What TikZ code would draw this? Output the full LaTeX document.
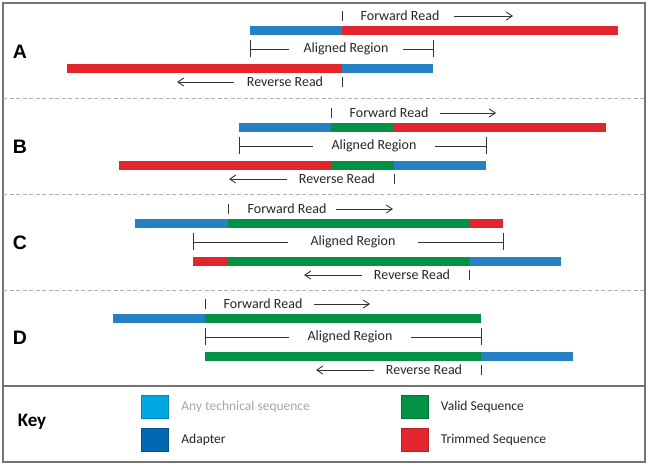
\documentclass[tikz,border=0pt]{standalone}
\usepackage{fontspec}
\setmainfont{Carlito}
\newfontfamily\panelfont{Liberation Sans}
\usetikzlibrary{arrows.meta,positioning}

\definecolor{adblue}{RGB}{38,128,196}
\definecolor{trimred}{RGB}{227,38,46}
\definecolor{validgreen}{RGB}{0,146,69}
\definecolor{keylight}{RGB}{0,168,226}
\definecolor{keydark}{RGB}{0,104,176}
\definecolor{framegray}{RGB}{115,115,115}
\definecolor{sepgray}{RGB}{175,175,175}
\definecolor{lightlbl}{RGB}{165,165,165}

\tikzset{
  lbl/.style={font=\fontsize{14}{16}\selectfont, text=black!85, inner sep=0pt},
  ln/.style={draw=black!80, line width=0.9pt},
  arr/.style={ln, -{Straight Barb[length=6pt,width=8pt]}},
  panel/.style={font=\panelfont\bfseries\fontsize{19.5}{22}\selectfont},
  keybox/.style={minimum width=27pt, minimum height=23pt, inner sep=0pt, draw=#1!80!black, line width=0.4pt, fill=#1},
  keytxt/.style={font=\fontsize{13.5}{16}\selectfont, text=black!85, inner sep=0pt}
}

\begin{document}
\begin{tikzpicture}[x=1pt,y=-1pt]
\useasboundingbox (0,0) rectangle (649,466);
\draw[framegray, line width=1.2pt] (3,3) rectangle (645,462);
\draw[framegray, line width=1.2pt] (3,386) -- (645,386);
\foreach \y in {98.5,194,290}
\draw[sepgray, line width=0.8pt, dash pattern=on 4pt off 2.5pt] (3,\y) -- (645,\y);

% A
\node[panel] (lA) at (20,52) {A};
\foreach \a/\b/\c in {250/342/adblue,342/618/trimred}
\fill[\c] (\a,26) rectangle (\b,35);
\foreach \a/\b/\c in {67/342/trimred,342/433/adblue}
\fill[\c] (\a,64) rectangle (\b,73);
\node[lbl] (fwA) at (400,16) {Forward Read};
\coordinate (fwAe) at (513,16);
\draw[arr, shorten <=14pt] (fwA.east) -- (fwAe);
\draw[ln] (342,11) -- (342,21);
\node[lbl, inner xsep=14pt] (alA) at (346,49) {Aligned Region};
\coordinate (alAl) at (250,49);
\coordinate (alAr) at (433,49);
\draw[ln] (alAl) -- (alA.west);
\draw[ln] (alA.east) -- (alAr);
\draw[ln] (250,40) -- (250,57);
\draw[ln] (433,40) -- (433,57);
\node[lbl] (rvA) at (285,82) {Reverse Read};
\coordinate (rvAe) at (177,82);
\draw[arr, shorten <=13pt] (rvA.west) -- (rvAe);
\draw[ln] (342,77) -- (342,87);

% B
\begin{scope}[shift={(0,97)}]
\node[panel] (lB) at (20,50) {B};
\foreach \a/\b/\c in {239/331/adblue,331/394/validgreen,394/606/trimred}
\fill[\c] (\a,26) rectangle (\b,35);
\foreach \a/\b/\c in {119/331/trimred,331/394/validgreen,394/486/adblue}
\fill[\c] (\a,64) rectangle (\b,73);
\node[lbl] (fwB) at (389,16) {Forward Read};
\coordinate (fwBe) at (496,16);
\draw[arr, shorten <=11pt] (fwB.east) -- (fwBe);
\draw[ln] (331,11) -- (331,21);
\node[lbl, inner xsep=18pt] (alB) at (374,49) {Aligned Region};
\coordinate (alBl) at (239,49);
\coordinate (alBr) at (486,49);
\draw[ln] (alBl) -- (alB.west);
\draw[ln] (alB.east) -- (alBr);
\draw[ln] (239,40) -- (239,57);
\draw[ln] (486,40) -- (486,57);
\node[lbl] (rvB) at (337,82) {Reverse Read};
\coordinate (rvBe) at (229,82);
\draw[arr, shorten <=12pt] (rvB.west) -- (rvBe);
\draw[ln] (394,77) -- (394,87);
\end{scope}

% C
\begin{scope}[shift={(0,193)}]
\node[panel] (lC) at (20,50) {C};
\foreach \a/\b/\c in {135/228/adblue,228/469/validgreen,469/503/trimred}
\fill[\c] (\a,26) rectangle (\b,35);
\foreach \a/\b/\c in {193/228/trimred,228/469/validgreen,469/561/adblue}
\fill[\c] (\a,64) rectangle (\b,73);
\node[lbl] (fwC) at (287,16) {Forward Read};
\coordinate (fwCe) at (393,16);
\draw[arr, shorten <=9pt] (fwC.east) -- (fwCe);
\draw[ln] (228,11) -- (228,21);
\node[lbl, inner xsep=22pt] (alC) at (353,49) {Aligned Region};
\coordinate (alCl) at (193,49);
\coordinate (alCr) at (503,49);
\draw[ln] (alCl) -- (alC.west);
\draw[ln] (alC.east) -- (alCr);
\draw[ln] (193,40) -- (193,57);
\draw[ln] (503,40) -- (503,57);
\node[lbl] (rvC) at (412,82) {Reverse Read};
\coordinate (rvCe) at (304,82);
\draw[arr, shorten <=12pt] (rvC.west) -- (rvCe);
\draw[ln] (469,77) -- (469,87);
\end{scope}

% D
\begin{scope}[shift={(0,288)}]
\node[panel] (lD) at (20,50) {D};
\foreach \a/\b/\c in {113/205/adblue,205/481/validgreen}
\fill[\c] (\a,26) rectangle (\b,35);
\foreach \a/\b/\c in {205/481/validgreen,481/573/adblue}
\fill[\c] (\a,64) rectangle (\b,73);
\node[lbl] (fwD) at (263,16) {Forward Read};
\coordinate (fwDe) at (370,16);
\draw[arr, shorten <=11pt] (fwD.east) -- (fwDe);
\draw[ln] (205,11) -- (205,21);
\node[lbl, inner xsep=18pt] (alD) at (350,49) {Aligned Region};
\coordinate (alDl) at (205,49);
\coordinate (alDr) at (481,49);
\draw[ln] (alDl) -- (alD.west);
\draw[ln] (alD.east) -- (alDr);
\draw[ln] (205,40) -- (205,57);
\draw[ln] (481,40) -- (481,57);
\node[lbl] (rvD) at (424,82) {Reverse Read};
\coordinate (rvDe) at (316,82);
\draw[arr, shorten <=12pt] (rvD.west) -- (rvDe);
\draw[ln] (481,77) -- (481,87);
\end{scope}

% key
\node[font=\bfseries\fontsize{19}{22}\selectfont] (key) at (32,422) {Key};
\node[keybox=keylight] (kTech) at (154.5,406.5) {};
\node[keytxt, text=lightlbl, right=13pt of kTech] (tTech) {Any technical sequence};
\node[keybox=keydark] (kAd) at (154.5,440) {};
\node[keytxt, right=13pt of kAd] (tAd) {Adapter};
\node[keybox=validgreen] (kVal) at (415,406.5) {};
\node[keytxt, right=12pt of kVal] (tVal) {Valid Sequence};
\node[keybox=trimred] (kTrim) at (415,440) {};
\node[keytxt, right=12pt of kTrim] (tTrim) {Trimmed Sequence};
\end{tikzpicture}
\end{document}
